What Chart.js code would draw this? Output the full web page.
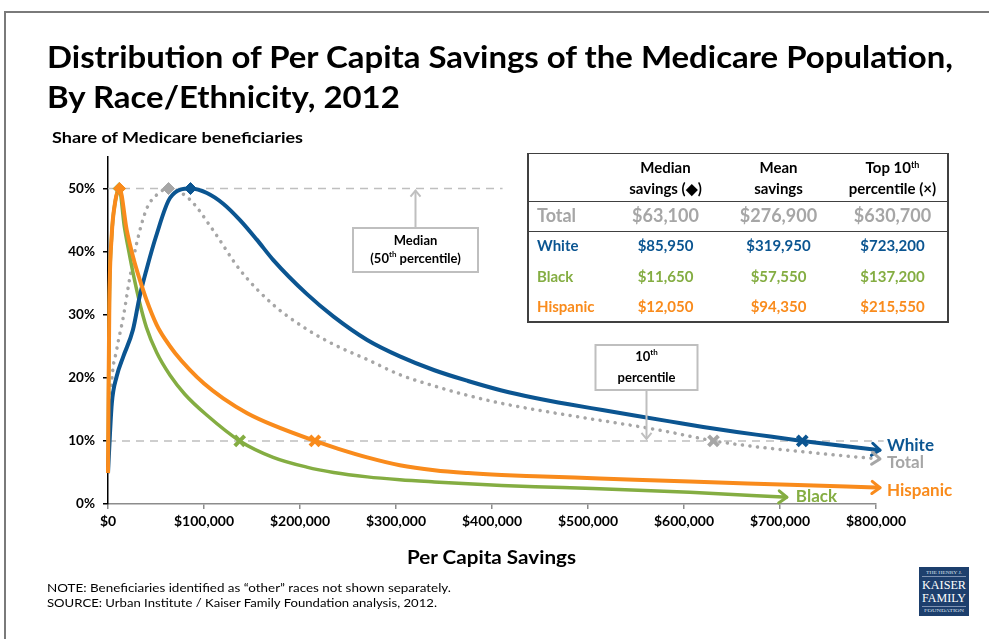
<!DOCTYPE html>
<html lang="en">
<head>
<meta charset="utf-8">
<title>Distribution of Per Capita Savings of the Medicare Population, By Race/Ethnicity, 2012</title>
<script src="https://cdn.jsdelivr.net/npm/chart.js@4.4.1/dist/chart.umd.min.js"></script>
<style>
  html, body { margin: 0; padding: 0; background: #fff; }
  body { position: relative; width: 989px; height: 639px; overflow: hidden; font-family: Lato, "Open Sans", sans-serif; }
  #frame { position: absolute; left: 4px; top: 11px; width: 1000px; height: 650px; border-top: 2px solid #7a7a7a; border-left: 2px solid #7a7a7a; }
  #chart { position: absolute; left: 0; top: 0; }
  .txt { position: absolute; white-space: nowrap; transform-origin: 0 50%; }
  .txt sup { font-size: 0.6em; vertical-align: 0; position: relative; top: -0.6em; }
  #tbl { position: absolute; left: 527px; top: 153px; width: 422px; height: 170px; box-sizing: border-box;
         border: 2px solid #404040; border-top-width: 1.5px; }
  .hline { position: absolute; left: 527px; width: 422px; height: 0; border-top: 1.5px solid #404040; }
  #logo { position: absolute; left: 919px; top: 567px; width: 50px; height: 49px; background: #1d3f6d; }
  .rule { position: absolute; left: 922px; width: 44px; height: 0; border-top: 1px solid #7f93b3; }
</style>
</head>
<body>
<div id="frame"></div>
<canvas id="chart" width="989" height="639"></canvas>
<div id="tbl"></div>
<div class="hline" style="top:201px"></div>
<div class="hline" style="top:231px"></div>
<div id="logo"></div>
<div class="rule" style="top:576px"></div>
<div class="rule" style="top:606px"></div>

<script>
// ---- summary table values (per capita savings, dollars) ----
const groups        = ['Total', 'White', 'Black', 'Hispanic'];
const medianSavings = [63100, 85950, 11650, 12050];
const meanSavings   = [276900, 319950, 57550, 94350];
const top10Savings  = [630700, 723200, 137200, 215550];

// ---- folded distribution curves: savings ($) and share of beneficiaries (%) ----
const totalSavings = [0, 2000, 3800, 9000, 16000, 23000, 30000, 40000, 50700, 85000, 109000, 137500,
  172000, 207000, 235000, 270000, 304000, 340000, 375000, 410000, 445000, 480000, 515000, 550000,
  585000, 676000, 710000, 745000, 780000, 800000];
const totalShare = [5.5, 13, 19.2, 24.4, 29.7, 36.1, 41.4, 46.7, 49.0, 48.3, 43.5, 37.1,
  31.6, 27.7, 25.3, 22.9, 20.5, 18.7, 17.2, 15.95, 14.95, 14.05, 13.2, 12.35,
  11.4, 9.05, 8.5, 7.95, 7.45, 7.2];

const whiteSavings = [0, 2000, 4000, 9000, 16000, 26000, 33000, 40000, 50000, 65000, 103000, 120000,
  137500, 155000, 172000, 207000, 235000, 270000, 304000, 340000, 375000, 410000, 445000, 480000,
  515000, 550000, 585000, 620000, 655000, 690000, 760000, 800000];
const whiteShare = [4.9, 11, 16, 20.2, 23.4, 27.6, 32.9, 37.1, 42.4, 48.6, 49.3, 47.6,
  45.0, 41.9, 38.7, 33.3, 29.7, 26.0, 23.4, 21.2, 19.5, 18.0, 16.8, 15.8,
  14.9, 14.0, 13.1, 12.2, 11.4, 10.7, 9.3, 8.6];

const blackSavings = [0, 700, 1400, 3800, 7300, 17000, 22000, 26400, 33000, 40000, 50700, 64600,
  80000, 102800, 172000, 207000, 235000, 270000, 304000, 340000, 375000, 410000, 445000, 505000,
  606000, 703000];
const blackShare = [4.9, 20, 31.9, 42.4, 47.7, 44.0, 39.8, 36.4, 31.9, 28.0, 24.0, 20.4,
  17.4, 14.1, 7.4, 5.85, 5.0, 4.3, 3.85, 3.5, 3.2, 2.95, 2.75, 2.45,
  1.85, 1.1];

const hispanicSavings = [0, 700, 1400, 3800, 7300, 19400, 26400, 33000, 40000, 50700, 60000, 70000,
  85000, 100000, 120000, 145000, 172000, 240000, 270000, 304000, 340000, 375000, 410000, 445000,
  512000, 606000, 710000, 800000];
const hispanicShare = [4.9, 20, 31.9, 42.4, 47.7, 43.5, 39.0, 35.6, 32.4, 28.4, 26.0, 23.9,
  21.3, 19.1, 16.75, 14.4, 12.5, 8.75, 7.4, 6.15, 5.35, 4.9, 4.6, 4.4,
  4.05, 3.55, 3.05, 2.6];

// ---- axis ticks and reference levels ----
const xTickValues = [0, 100000, 200000, 300000, 400000, 500000, 600000, 700000, 800000];
const yTickValues = [0, 10, 20, 30, 40, 50];
const refLevels = [50, 10];           // median and top-10th-percentile levels (%)
const refEnds   = [411000, 808000];   // where each dashed guide stops ($)

// ---- styling ----
const FONT = 'Lato, "Open Sans", sans-serif';
const palette = { Total: '#a6a6a6', White: '#0b5591', Black: '#84ad42', Hispanic: '#f98b1c' };

// ---------- HTML text helper ----------
function putText(html, o) {
  const d = document.createElement('div');
  d.className = 'txt';
  d.innerHTML = html;
  d.style.fontSize = o.size + 'px';
  d.style.lineHeight = o.size + 'px';
  d.style.fontWeight = o.bold ? '700' : '400';
  d.style.color = o.color || '#000';
  if (o.family) d.style.fontFamily = o.family;
  document.body.appendChild(d);
  const w = d.getBoundingClientRect().width;
  const sx = o.scale || (o.width ? o.width / w : 1);
  let left = o.x;
  if (o.align === 'center') left = o.x - (w * sx) / 2;
  if (o.align === 'right') left = o.x - w * sx;
  d.style.left = left + 'px';
  d.style.top = (o.y - o.size * 0.53) + 'px';
  if (sx !== 1) d.style.transform = 'scaleX(' + sx.toFixed(4) + ')';
  return sx;
}

// title, subtitle, axis title, notes
const tScale = putText('Distribution of Per Capita Savings of the Medicare Population,', { x: 47, y: 57, size: 30, bold: true, width: 906 });
putText('By Race/Ethnicity, 2012', { x: 47, y: 97, size: 30, bold: true, scale: tScale });
putText('Share of Medicare beneficiaries', { x: 52, y: 138, size: 15, bold: true, width: 251 });
putText('Per Capita Savings', { x: 491.5, y: 557, size: 19, bold: true, align: 'center', width: 169 });
putText('NOTE: Beneficiaries identified as \u201Cother\u201D races not shown separately.', { x: 47, y: 588, size: 12, width: 404 });
putText('SOURCE: Urban Institute / Kaiser Family Foundation analysis, 2012.', { x: 47, y: 603, size: 12, width: 390 });

// logo lettering
const serif = '"Liberation Serif", "DejaVu Serif", serif';
putText('THE HENRY J.', { x: 944, y: 572.5, size: 5, family: serif, color: '#d8e0ec', align: 'center', width: 36 });
putText('KAISER', { x: 944, y: 585, size: 13, family: serif, color: '#ffffff', align: 'center', width: 44 });
putText('FAMILY', { x: 944, y: 598, size: 13, family: serif, color: '#ffffff', align: 'center', width: 44 });
putText('FOUNDATION', { x: 944, y: 611, size: 5, family: serif, color: '#d8e0ec', align: 'center', width: 40 });

// summary table
const colX = [665.5, 778.5, 892.5];
const rowY = [215.5, 246, 276.5, 306.5];
putText('Median', { x: colX[0], y: 168, size: 15, bold: true, align: 'center' });
putText('savings (\u25C6)', { x: colX[0], y: 189, size: 15, bold: true, align: 'center' });
putText('Mean', { x: colX[1], y: 168, size: 15, bold: true, align: 'center' });
putText('savings', { x: colX[1], y: 189, size: 15, bold: true, align: 'center' });
putText('Top 10<sup>th</sup>', { x: colX[2], y: 168, size: 15, bold: true, align: 'center' });
putText('percentile (\u00D7)', { x: colX[2], y: 189, size: 15, bold: true, align: 'center' });
const money = v => '$' + v.toLocaleString('en-US');
groups.forEach((g, i) => {
  const size = i === 0 ? 18 : 15;
  const color = palette[g];
  putText(g, { x: 537, y: rowY[i], size, bold: true, color });
  putText(money(medianSavings[i]), { x: colX[0], y: rowY[i], size, bold: true, color, align: 'center' });
  putText(money(meanSavings[i]), { x: colX[1], y: rowY[i], size, bold: true, color, align: 'center' });
  putText(money(top10Savings[i]), { x: colX[2], y: rowY[i], size, bold: true, color, align: 'center' });
});

// ---------- chart ----------
// each curve passes through its median (50%) and top-10th-percentile (10%) points
function curve(xs, ys, group) {
  const i = groups.indexOf(group);
  const pts = xs.map((x, k) => ({ x, y: ys[k] }));
  pts.push({ x: medianSavings[i], y: 50 }, { x: top10Savings[i], y: 10 });
  return pts.sort((a, b) => a.x - b.x);
}

function curveDataset(group, xs, ys, extra) {
  return Object.assign({
    label: group,
    data: curve(xs, ys, group),
    borderColor: palette[group],
    borderWidth: 4,
    pointRadius: 0,
    fill: false,
    cubicInterpolationMode: 'monotone',
    clip: false,
    endLabel: group
  }, extra);
}

const markerColors = groups.map(g => palette[g]);

const datasets = [
  {
    label: 'Top 10th percentile',
    data: groups.map((g, i) => ({ x: top10Savings[i], y: 10 })),
    showLine: false, pointStyle: 'crossRot', pointRadius: 7, pointBorderWidth: 4,
    pointBorderColor: markerColors, pointBackgroundColor: markerColors, clip: false
  },
  {
    label: 'Median',
    data: groups.map((g, i) => ({ x: medianSavings[i], y: 50 })),
    showLine: false, pointStyle: 'rectRot', pointRadius: 6, pointBorderWidth: 1,
    pointBorderColor: markerColors, pointBackgroundColor: markerColors, clip: false
  },
  curveDataset('Hispanic', hispanicSavings, hispanicShare, { labelDx: 7, labelDy: 2.5 }),
  curveDataset('White', whiteSavings, whiteShare, { labelDx: 7, labelDy: -5 }),
  curveDataset('Black', blackSavings, blackShare, { borderWidth: 3.5, labelDx: 9, labelDy: -1 }),
  curveDataset('Total', totalSavings, totalShare, { borderWidth: 3.5, borderDash: [0.1, 7.5], borderCapStyle: 'round', labelDx: 7, labelDy: 4 }),
];
refLevels.forEach((lvl, i) => {
  datasets.push({
    label: 'guide ' + lvl,
    data: [{ x: 0, y: lvl }, { x: refEnds[i], y: lvl }],
    borderColor: '#bfbfbf', borderWidth: 1.5, borderDash: [8, 6], pointRadius: 0, clip: false
  });
});

// explanatory notes pointing at the guides
const noteMedianAt = 320000;
const noteTenthAt = 560000;

function richText(ctx, parts, cx, cy, size) {
  const base = 'bold ' + size + 'px ' + FONT;
  const small = 'bold ' + Math.round(size * 0.62) + 'px ' + FONT;
  let total = 0;
  parts.forEach(p => { ctx.font = p.sup ? small : base; p.w = ctx.measureText(p.t).width; total += p.w; });
  let x = cx - total / 2;
  ctx.textAlign = 'left';
  ctx.textBaseline = 'middle';
  parts.forEach(p => {
    ctx.font = p.sup ? small : base;
    ctx.fillText(p.t, x, p.sup ? cy - size * 0.35 : cy);
    x += p.w;
  });
}

const decorations = {
  id: 'decorations',
  afterDatasetsDraw(chart) {
    const { ctx } = chart;
    const xs = chart.scales.x, ys = chart.scales.y;
    ctx.save();

    // arrowheads and series names at the curve ends
    chart.data.datasets.forEach((ds, i) => {
      if (!ds.endLabel) return;
      const pts = chart.getDatasetMeta(i).data;
      const p = pts[pts.length - 1];
      const q = pts[pts.length - 2];
      let dx = p.x - (p.cp1x !== undefined ? p.cp1x : q.x);
      let dy = p.y - (p.cp1y !== undefined ? p.cp1y : q.y);
      if (Math.hypot(dx, dy) < 0.01) { dx = p.x - q.x; dy = p.y - q.y; }
      const ang = Math.atan2(dy, dx);
      const tx = p.x + Math.cos(ang) * 4, ty = p.y + Math.sin(ang) * 4;
      ctx.setLineDash([]);
      ctx.strokeStyle = ds.borderColor;
      ctx.lineWidth = 3;
      ctx.lineCap = 'round';
      ctx.lineJoin = 'round';
      if (!ds.borderDash) {
        ctx.beginPath(); ctx.moveTo(p.x, p.y); ctx.lineTo(tx, ty); ctx.stroke();
      }
      const L = 10, a = 0.65;
      ctx.beginPath();
      ctx.moveTo(tx - L * Math.cos(ang - a), ty - L * Math.sin(ang - a));
      ctx.lineTo(tx, ty);
      ctx.lineTo(tx - L * Math.cos(ang + a), ty - L * Math.sin(ang + a));
      ctx.stroke();
      ctx.fillStyle = ds.borderColor;
      ctx.font = 'bold 17px ' + FONT;
      ctx.textAlign = 'left';
      ctx.textBaseline = 'middle';
      ctx.fillText(ds.endLabel, tx + ds.labelDx, ty + ds.labelDy);
    });

    // boxes with pointers
    const grey = '#bfbfbf';
    ctx.strokeStyle = grey;
    ctx.lineWidth = 2;
    ctx.lineCap = 'butt';
    ctx.lineJoin = 'miter';

    // median note
    const mx = Math.round(xs.getPixelForValue(noteMedianAt)) + 0.5;
    const y50 = ys.getPixelForValue(50);
    const mTop = 228, mH = 44, mW = 125;
    ctx.beginPath(); ctx.moveTo(mx, mTop); ctx.lineTo(mx, y50 + 2); ctx.stroke();
    ctx.beginPath(); ctx.moveTo(mx - 5, y50 + 8); ctx.lineTo(mx, y50 + 2); ctx.lineTo(mx + 5, y50 + 8); ctx.stroke();
    ctx.fillStyle = '#fff';
    ctx.fillRect(mx - mW / 2, mTop, mW, mH);
    ctx.strokeRect(mx - mW / 2, mTop, mW, mH);
    ctx.fillStyle = '#000';
    richText(ctx, [{ t: 'Median' }], mx, mTop + 13, 13);
    richText(ctx, [{ t: '(50' }, { t: 'th', sup: true }, { t: ' percentile)' }], mx, mTop + 31, 13);

    // 10th percentile note
    const tx0 = Math.round(xs.getPixelForValue(noteTenthAt)) + 0.5;
    const y10 = ys.getPixelForValue(10);
    const tTop = 345, tH = 45, tW = 102;
    ctx.strokeStyle = grey;
    ctx.beginPath(); ctx.moveTo(tx0, tTop + tH); ctx.lineTo(tx0, y10 - 2); ctx.stroke();
    ctx.beginPath(); ctx.moveTo(tx0 - 5, y10 - 8); ctx.lineTo(tx0, y10 - 2); ctx.lineTo(tx0 + 5, y10 - 8); ctx.stroke();
    ctx.fillStyle = '#fff';
    ctx.fillRect(tx0 - tW / 2, tTop, tW, tH);
    ctx.strokeRect(tx0 - tW / 2, tTop, tW, tH);
    ctx.fillStyle = '#000';
    richText(ctx, [{ t: '10' }, { t: 'th', sup: true }], tx0, tTop + 12, 13);
    richText(ctx, [{ t: 'percentile' }], tx0, tTop + 33, 13);

    ctx.restore();
  }
};

Chart.defaults.font.family = FONT;

new Chart(document.getElementById('chart'), {
  type: 'line',
  data: { datasets },
  options: {
    responsive: false,
    animation: false,
    events: [],
    layout: { padding: { left: 0, right: 113, top: 157, bottom: 0 } },
    plugins: { legend: { display: false }, tooltip: { enabled: false } },
    scales: {
      x: {
        type: 'linear', min: 0, max: 800000,
        afterFit(s) { s.height = 135; },
        afterBuildTicks(s) { s.ticks = xTickValues.map(v => ({ value: v })); },
        ticks: {
          callback: v => money(v), color: '#000', padding: 4, maxRotation: 0, autoSkip: false,
          font: { size: 14, weight: 'bold' }
        },
        grid: { drawOnChartArea: false, drawTicks: true, tickLength: 5, color: '#8c8c8c', lineWidth: 1.5 },
        border: { display: true, color: '#8c8c8c', width: 1.5 }
      },
      y: {
        type: 'linear', min: 0, max: 55,
        afterFit(s) { s.width = 108; },
        afterBuildTicks(s) { s.ticks = yTickValues.map(v => ({ value: v })); },
        ticks: { callback: v => v + '%', color: '#000', padding: 8, font: { size: 13.5, weight: 'bold' } },
        grid: { drawOnChartArea: false, drawTicks: true, tickLength: 5, color: '#000', lineWidth: 1.5 },
        border: { display: true, color: '#000', width: 1.5 }
      }
    }
  },
  plugins: [decorations]
});
</script>
</body>
</html>
